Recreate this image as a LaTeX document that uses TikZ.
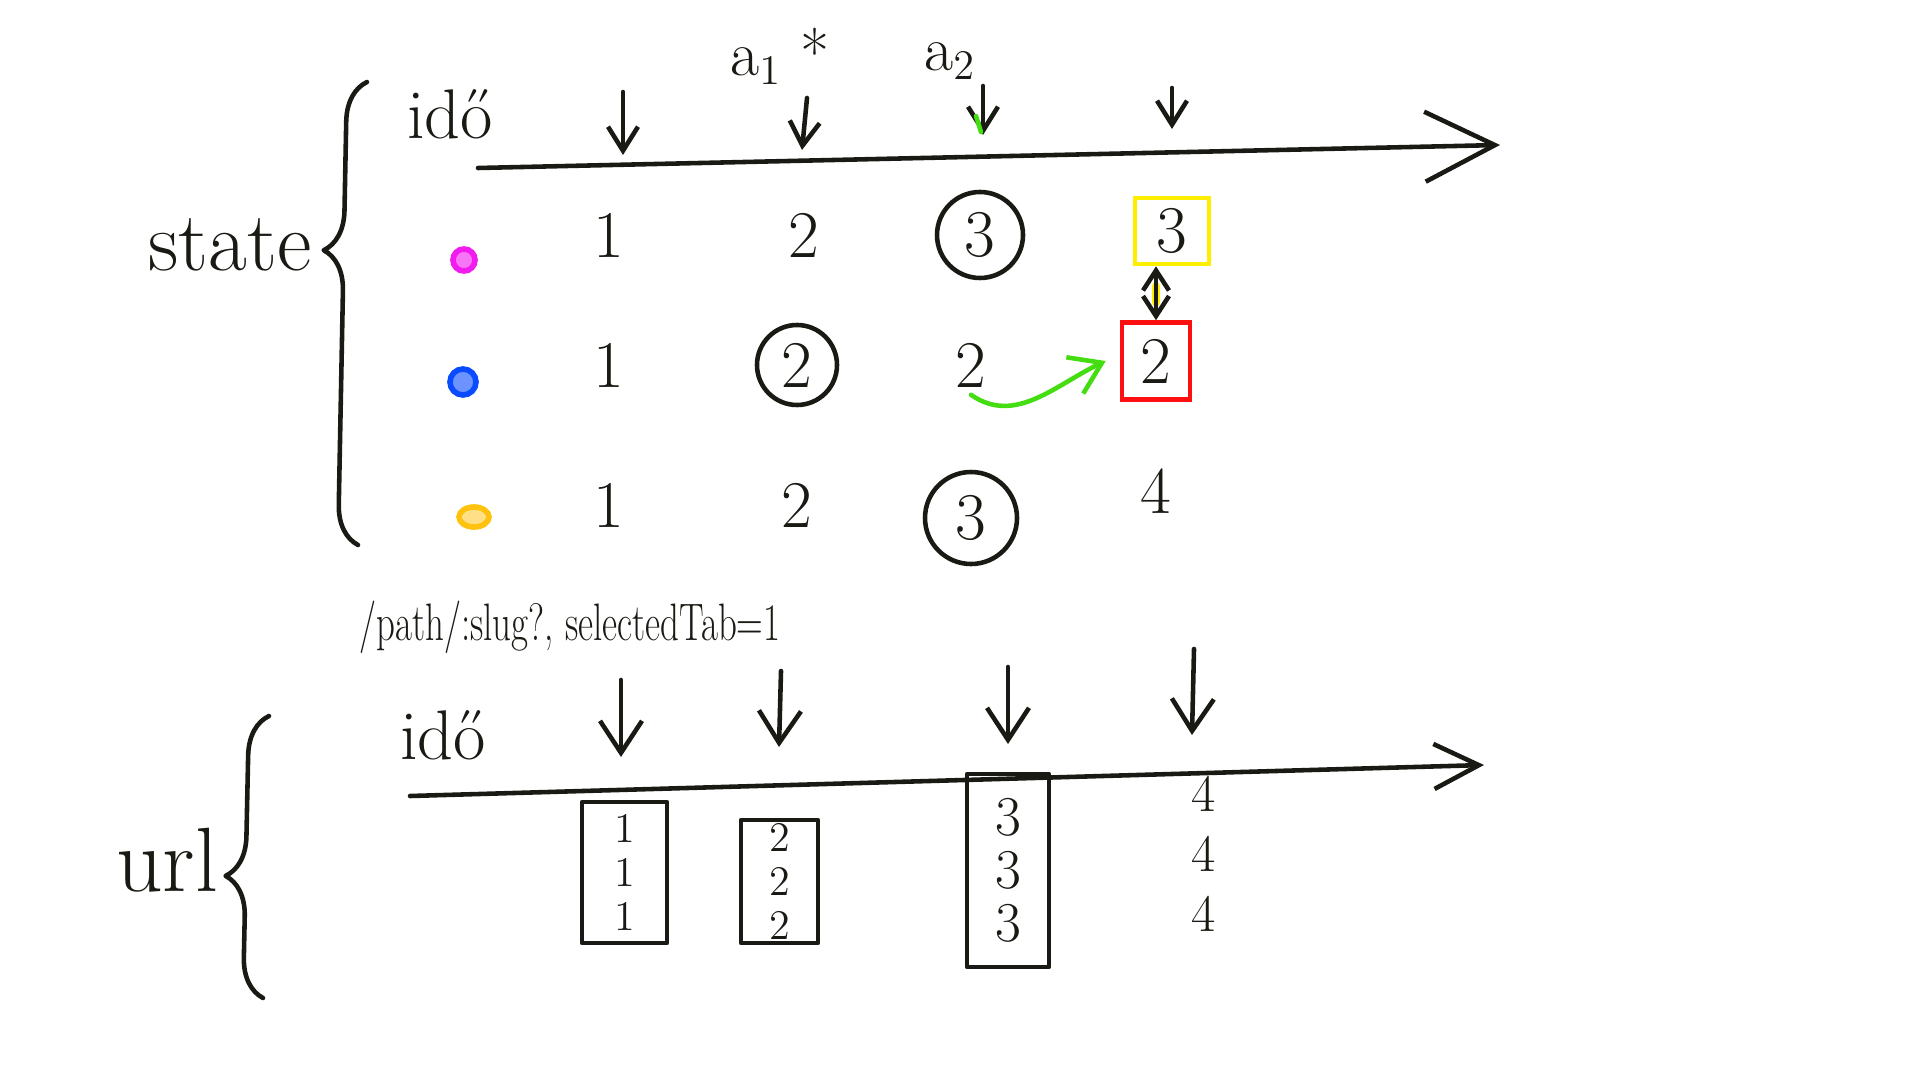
\documentclass[tikz,border=0pt]{standalone}
\usepackage{xcolor}
\usepackage{tikz}
\usetikzlibrary{positioning}
\usetikzlibrary{shapes.geometric}
\usetikzlibrary{arrows.meta}
\usetikzlibrary{decorations.pathreplacing}

\definecolor{pen}{HTML}{1A1A14}
\definecolor{hlmagenta}{HTML}{F21AEF}
\definecolor{hlblue}{HTML}{0A4BFF}
\definecolor{hlorange}{HTML}{FFC20E}
\definecolor{hlyellow}{HTML}{FFEE00}
\definecolor{hlred}{HTML}{FF1010}
\definecolor{hlgreen}{HTML}{44DD11}

\tikzset{
  ink/.style={draw=pen, line width=1.3pt, line cap=round, line join=round},
  num/.style={font=\fontsize{19}{22}\selectfont, text=pen, inner sep=2pt},
  ring/.style={num, circle, ink, minimum size=8.6mm, inner sep=0pt},
  tick/.style={ink, -{Straight Barb[length=2.4mm, width=3mm]}},
  bigtick/.style={ink, -{Straight Barb[length=3.2mm, width=4.2mm]}},
  urlbox/.style={ink, rectangle, align=center, inner sep=0pt, text=pen,
    font=\fontsize{12}{12.5}\selectfont},
  spot/.style={circle, draw=#1, line width=1.6pt, fill=#1!60,
    minimum size=2.2mm, inner sep=0pt},
}

\begin{document}
\begin{tikzpicture}
\useasboundingbox (0,0) rectangle (19.2,-10.8);

% state timeline
\coordinate (sa0) at (4.78,-1.68);
\coordinate (sa1) at (15.0,-1.45);
\draw [ink, -{Straight Barb[length=7mm, width=7mm]}] (sa0) -- (sa1);

\node (sido) 
	[font=\fontsize{20}{22}\selectfont, text=pen] at (4.50,-1.14) 
	{idő};
\node (act1) 
	[font=\fontsize{18}{20}\selectfont, text=pen] at (7.80,-0.56) 
	{a$_1$\ *};
\node (act2) 
	[font=\fontsize{18}{20}\selectfont, text=pen] at (9.50,-0.61) 
	{a$_2$};

\coordinate (st1a) at (6.23,-0.92);
\coordinate (st1b) at (6.23,-1.55);
\coordinate (st2a) at (8.07,-0.98);
\coordinate (st2b) at (8.02,-1.50);
\coordinate (st3a) at (9.83,-0.86);
\coordinate (st3b) at (9.83,-1.35);
\coordinate (st4a) at (11.72,-0.88);
\coordinate (st4b) at (11.72,-1.29);
\draw [tick] (st1a) -- (st1b);
\draw [tick] (st2a) -- (st2b);
\draw [tick] (st3a) -- (st3b);
\draw [tick] (st4a) -- (st4b);
\coordinate (gm0) at (9.76,-1.16);
\coordinate (gm1) at (9.81,-1.32);
\draw [hlgreen, line width=1.3pt, line cap=round] (gm0) -- (gm1);

% state brace
\coordinate (sbb) at (3.58,-5.45);
\coordinate (sbt) at (3.67,-0.82);
\draw [ink, decorate, decoration={brace, amplitude=4mm, aspect=0.635}] (sbb) -- (sbt);
\node (state) 
	[font=\fontsize{24}{26}\selectfont, text=pen] at (2.30,-2.45) 
	{state};

% tabs
\node (mspot) [spot=hlmagenta] at (4.64,-2.60) {};
\node (bspot) [spot=hlblue, minimum size=2.6mm] at (4.63,-3.82) {};
\node (ospot) [ellipse, draw=hlorange, line width=1.6pt, fill=hlorange!50,
	minimum width=3mm, minimum height=2mm, inner sep=0pt] at (4.74,-5.17) {};

% values
\node (s11) [num] at (6.09,-2.35) {1};
\node (s12) [num, on grid, right=1.95 of s11] {2};
\node (s13) [ring, on grid, right=1.76 of s12] {3};
\node (s14) 
	[num, draw=hlyellow, line width=1.3pt, minimum width=7.4mm, minimum height=6.6mm, 
	 on grid, right=1.92 of s13, yshift=.4mm] 
	{3};

\node (s21) [num, on grid, below=1.3 of s11] {1};
\node (s22) [ring, minimum size=8mm, on grid, below=1.3 of s12, xshift=-.7mm] {2};
\node (s23) [num, on grid, below=1.3 of s13, xshift=-.9mm] {2};
\node (s24) 
	[num, draw=hlred, line width=1.3pt, minimum width=6.8mm, minimum height=7.7mm, 
	 on grid, below=1.3 of s13, xshift=17.6mm, yshift=.4mm] 
	{2};

\node (s31) [num, on grid, below=1.4 of s21] {1};
\node (s32) [num, on grid, below=1.4 of s22] {2};
\node (s33) [ring, minimum size=9.2mm, on grid, below=1.4 of s23, yshift=-1.3mm] {3};
\node (s34) [num, on grid, below=1.4 of s24, yshift=1mm] {4};

\coordinate (swap) at (s24.north |- s14.south);
\draw [hlyellow, line width=2.4pt, line cap=round] ([yshift=-2mm]swap) -- ([yshift=-3.6mm]swap);
\draw [ink, {Straight Barb[length=2mm, width=2.6mm]}-{Straight Barb[length=2mm, width=2.6mm]}] 
	(s24.north) -- (swap);
\draw [hlgreen, line width=1.3pt, line cap=round, -{Straight Barb[length=3mm, width=4mm]}] 
	(s23.south) to[out=-35, in=205] ([xshift=-1.4mm]s24.west);

% url timeline
\node (route) 
	[font=\fontsize{15}{17}\selectfont, text=pen] at (5.70,-6.27) 
	{\scalebox{0.7}[1]{/path/:slug?, selectedTab=1}};

\coordinate (ua0) at (4.10,-7.96);
\coordinate (ua1) at (14.84,-7.65);
\draw [ink, -{Straight Barb[length=4.5mm, width=4.5mm]}] (ua0) -- (ua1);

\node (uido) 
	[font=\fontsize{20}{22}\selectfont, text=pen] at (4.43,-7.35) 
	{idő};

\coordinate (ut1a) at (6.21,-6.80);
\coordinate (ut1b) at (6.21,-7.57);
\coordinate (ut2a) at (7.81,-6.71);
\coordinate (ut2b) at (7.79,-7.47);
\coordinate (ut3a) at (10.08,-6.67);
\coordinate (ut3b) at (10.08,-7.44);
\coordinate (ut4a) at (11.94,-6.49);
\coordinate (ut4b) at (11.92,-7.35);
\draw [bigtick] (ut1a) -- (ut1b);
\draw [bigtick] (ut2a) -- (ut2b);
\draw [bigtick] (ut3a) -- (ut3b);
\draw [bigtick] (ut4a) -- (ut4b);

% url brace
\coordinate (ubb) at (2.63,-9.98);
\coordinate (ubt) at (2.69,-7.16);
\draw [ink, decorate, decoration={brace, amplitude=4mm, aspect=0.43}] (ubb) -- (ubt);
\node (url) 
	[font=\fontsize{26}{28}\selectfont, text=pen] at (1.67,-8.60) 
	{url};

% url values
\node (u1) [urlbox, minimum width=8.5mm, minimum height=14.1mm] at (6.245,-8.725) {1\\1\\1};
\node (u2) [urlbox, minimum width=7.7mm, minimum height=12.3mm] at (7.795,-8.815) {2\\2\\2};
\node (u3) 
	[urlbox, minimum width=8.2mm, minimum height=19.3mm, font=\fontsize{16}{15}\selectfont] 
	at (10.08,-8.705) 
	{3\\3\\3};
\node (u4) 
	[align=center, text=pen, font=\fontsize{15}{17}\selectfont, inner sep=0pt] 
	at (12.04,-8.54) 
	{4\\4\\4};
\end{tikzpicture}
\end{document}
